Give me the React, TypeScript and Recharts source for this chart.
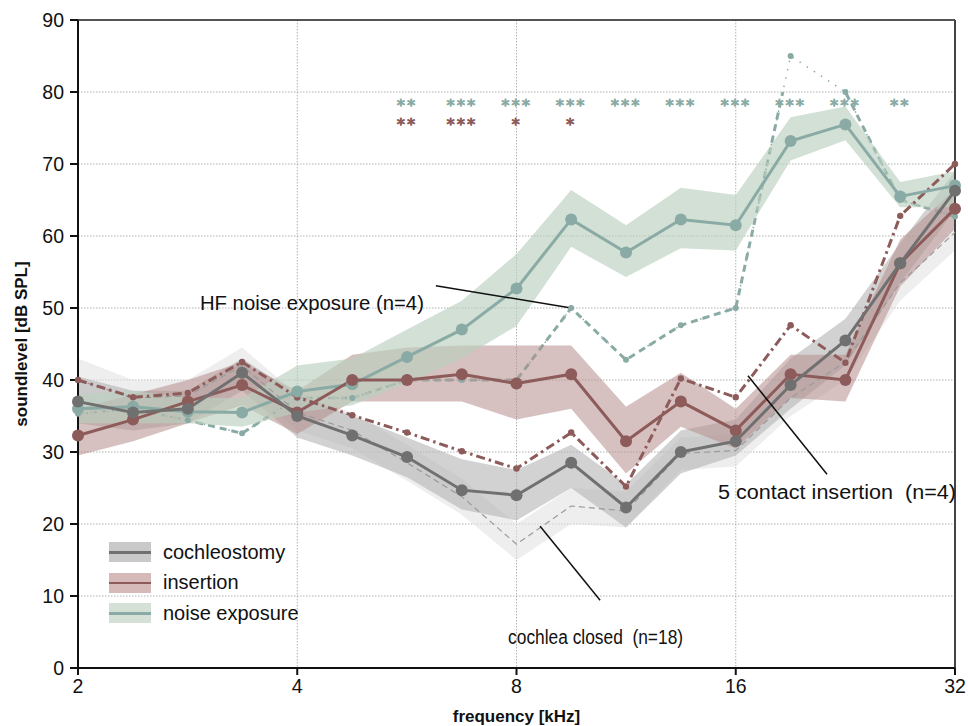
import React from "react";
import {
  ComposedChart,
  Area,
  Line,
  Scatter,
  XAxis,
  YAxis,
  CartesianGrid,
  ReferenceLine,
  ReferenceDot,
  Label,
} from "recharts";

// quarter-octave test frequencies [kHz]
const freqs = [2, 2.38, 2.83, 3.36, 4, 4.76, 5.66, 6.73, 8, 9.51, 11.31, 13.45, 16, 19.03, 22.63, 26.91, 32];
const xTicks = [2, 4, 8, 16, 32];
const yTicks = [0, 10, 20, 30, 40, 50, 60, 70, 80, 90];

// group means with their shaded bands [dB SPL]
const cochleostomy = [37, 35.5, 36, 41, 35, 32.3, 29.3, 24.7, 24, 28.5, 22.3, 30, 31.5, 39.3, 45.5, 56.2, 66.3];
const cochleostomyLo = [34, 33, 34, 38.5, 32, 29.5, 26.5, 22, 20.5, 25, 19.5, 27, 29.5, 36, 42, 53.5, 63.5];
const cochleostomyHi = [40.5, 38.5, 38.5, 43, 38, 35, 32, 29, 27.5, 31, 25.5, 33, 34.5, 43, 48.5, 59, 69];

const insertion = [32.3, 34.5, 37, 39.3, 35.5, 40, 40, 40.8, 39.5, 40.8, 31.5, 37, 33, 40.8, 40, 56.2, 63.8];
const insertionLo = [29.5, 31.5, 34, 36.5, 32.5, 37, 37, 37, 34.5, 36, 27, 33.5, 30.5, 37.5, 37, 53, 61];
const insertionHi = [36, 38, 40, 42.5, 38.5, 43.5, 44.5, 44.8, 44.8, 44.8, 36.3, 41, 36, 43.5, 43.5, 59.5, 66.5];

const noiseExposure = [36, 36.3, 35.6, 35.5, 38.4, 39.4, 43.2, 47, 52.7, 62.3, 57.7, 62.3, 61.5, 73.2, 75.5, 65.5, 67];
const noiseExposureLo = [34, 34, 34, 33.5, 35.5, 36.5, 39.5, 43, 47.5, 58.5, 54.3, 58.3, 58, 70.5, 73.3, 64, 64];
const noiseExposureHi = [38, 38.5, 37.5, 37.5, 42, 43, 47, 51, 57.5, 66.4, 61.5, 66.7, 65.7, 76.5, 78, 67.5, 69];

const cochleaClosed = [40, 37.5, 37.8, 42, 35.5, 33, 28.5, 23.8, 17.2, 22.5, 21.8, 29.8, 30.2, 37.5, 42.5, 53.5, 60.5];
const cochleaClosedLo = [37, 35, 35.5, 39.5, 33, 30.5, 26, 21.3, 15, 20, 19.5, 27.5, 28, 35, 40, 51, 58];
const cochleaClosedHi = [43, 40, 40, 44.5, 38, 35.5, 31, 26.3, 20, 25, 24.5, 32, 32.5, 40, 45, 56, 63];

// single-animal examples (n=4)
const contactInsertion = [40, 37.6, 38.2, 42.5, 37.6, 35.1, 32.7, 30.1, 27.7, 32.7, 25.2, 40.2, 37.6, 47.6, 42.4, 62.8, 70];
const hfNoise = [35.3, 36, 34.4, 32.6, 37.5, 37.5, 40, 40, 40, 50, 42.8, 47.6, 50, 85, 80, 65, 62.7];

// significance markers (noise exposure row on top, insertion row below)
const sigNoise = ["", "", "", "", "", "", "**", "***", "***", "***", "***", "***", "***", "***", "***", "**", ""];
const sigInsertion = ["", "", "", "", "", "", "**", "***", "*", "*", "", "", "", "", "", "", ""];

const legendNames = ["cochleostomy", "insertion", "noise exposure"];

const GRAY = "#707070";
const MAROON = "#8c5b5a";
const TEAL = "#8aaba5";
const FONT = '"Liberation Sans", Arial, sans-serif';

const legendColors = [
  { line: GRAY, band: "#c9c9c9" },
  { line: MAROON, band: "#d6bab9" },
  { line: TEAL, band: "#d5e1d6" },
];

const MARGIN = { top: 20, right: 13, bottom: 0, left: 0 };

function AnnoText({ viewBox, text, anchor, size, len }: any) {
  return (
    <text
      x={viewBox.x}
      y={viewBox.y}
      textAnchor={anchor}
      dominantBaseline="central"
      fontFamily={FONT}
      fontSize={size}
      fill="#111"
      textLength={len}
      lengthAdjust="spacingAndGlyphs"
      style={{ whiteSpace: "pre" }}
    >
      {text}
    </text>
  );
}

function Stars({ cx, cy, payload, color, dy }: any) {
  if (!payload.text) return null;
  return (
    <text
      x={cx}
      y={cy + dy}
      textAnchor="middle"
      fontFamily='"DejaVu Sans", sans-serif'
      fontSize={16.5}
      letterSpacing={2}
      fill={color}
      stroke={color}
      strokeWidth={0.9}
      strokeLinejoin="round"
    >
      {payload.text}
    </text>
  );
}

function LegendBox() {
  return (
    <div style={{ position: "absolute", left: 109, top: 537, fontFamily: FONT, fontSize: 20, color: "#111" }}>
      {legendNames.map((n, i) => (
        <div key={n} style={{ display: "flex", alignItems: "center", height: 30.5 }}>
          <div style={{ position: "relative", width: 42, height: 20, background: legendColors[i].band, marginRight: 12 }}>
            <div style={{ position: "absolute", left: 0, right: 0, top: 9, height: 2.5, background: legendColors[i].line }} />
          </div>
          <span>{n}</span>
        </div>
      ))}
    </div>
  );
}

export default function App() {
  const rows = freqs.map((f, i) => ({
    f,
    coch: cochleostomy[i],
    cochBand: [cochleostomyLo[i], cochleostomyHi[i]],
    ins: insertion[i],
    insBand: [insertionLo[i], insertionHi[i]],
    noise: noiseExposure[i],
    noiseBand: [noiseExposureLo[i], noiseExposureHi[i]],
    closed: cochleaClosed[i],
    closedBand: [cochleaClosedLo[i], cochleaClosedHi[i]],
    contact: contactInsertion[i],
    hf: hfNoise[i],
  }));
  const noiseStars = freqs.map((f, i) => ({ f, y: 78.8, text: sigNoise[i] }));
  const insStars = freqs.map((f, i) => ({ f, y: 76.1, text: sigInsertion[i] }));

  return (
    <div style={{ position: "absolute", left: 0, top: 0, width: 968, height: 726, background: "#fff" }}>
      {/* HF trace, dashed part: its own chart clipped at 80 dB (above that it is drawn dotted) */}
      <div style={{ position: "absolute", left: 0, top: 0 }}>
        <ComposedChart width={968} height={726} data={rows} margin={{ top: 92, right: 13, bottom: 58, left: 78 }}>
          <XAxis dataKey="f" type="number" scale="log" domain={[2, 32]} hide />
          <YAxis type="number" domain={[0, 80]} allowDataOverflow hide />
          <Line dataKey="hf" type="linear" stroke={TEAL} strokeWidth={3} strokeDasharray="7 5" dot={false} isAnimationActive={false} />
        </ComposedChart>
      </div>

      <div style={{ position: "absolute", left: 0, top: 0 }}>
        <ComposedChart width={968} height={726} data={rows} margin={MARGIN}>
          <CartesianGrid stroke="#b0b0b0" strokeDasharray="1.5 1.5" />
          <XAxis
            dataKey="f"
            type="number"
            scale="log"
            domain={[2, 32]}
            ticks={xTicks}
            height={58}
            stroke="#111"
            strokeWidth={2}
            tickSize={7}
            tickMargin={4}
            tick={{ fontFamily: FONT, fontSize: 19.5, fill: "#111" }}
          >
            <Label value="frequency [kHz]" position="insideBottom" offset={4} style={{ fontFamily: FONT, fontSize: 17, fontWeight: "bold", fill: "#111" }} />
          </XAxis>
          <YAxis
            type="number"
            domain={[0, 90]}
            ticks={yTicks}
            width={78}
            stroke="#111"
            strokeWidth={2}
            tickSize={8}
            tickMargin={6}
            tick={{ fontFamily: FONT, fontSize: 19.5, fill: "#111" }}
          >
            <Label
              content={({ viewBox }: any) => {
                const cy = viewBox.y + viewBox.height / 2;
                return (
                  <text x={21} y={cy} transform={`rotate(-90, 21, ${cy})`} textAnchor="middle" dominantBaseline="central" fontFamily={FONT} fontSize={17} fontWeight="bold" fill="#111">
                    soundlevel [dB SPL]
                  </text>
                );
              }}
            />
          </YAxis>

          <ReferenceLine y={90} stroke="#222" strokeWidth={1.5} />
          <ReferenceLine x={32} stroke="#444" strokeWidth={2} />

          <Area dataKey="closedBand" type="linear" stroke="none" fill="#e3e3e3" fillOpacity={0.6} isAnimationActive={false} />
          <Area dataKey="cochBand" type="linear" stroke="none" fill="#b4b4b4" fillOpacity={0.6} isAnimationActive={false} />
          <Area dataKey="insBand" type="linear" stroke="none" fill="#b58e8c" fillOpacity={0.55} isAnimationActive={false} />
          <Area dataKey="noiseBand" type="linear" stroke="none" fill="#bcd0be" fillOpacity={0.65} isAnimationActive={false} />

          <Line dataKey="closed" type="linear" stroke="#9a9a9a" strokeWidth={1.2} strokeDasharray="6 4" dot={false} isAnimationActive={false} />
          <Line dataKey="hf" type="linear" stroke={TEAL} strokeWidth={1.5} strokeDasharray="1.5 7" dot={{ r: 3, fill: TEAL, stroke: "none" }} isAnimationActive={false} />
          <Line dataKey="contact" type="linear" stroke={MAROON} strokeWidth={3} strokeDasharray="9 4 2.5 4" dot={{ r: 3.2, fill: MAROON, stroke: "none" }} isAnimationActive={false} />
          <Line dataKey="noise" type="linear" stroke={TEAL} strokeWidth={3} dot={{ r: 6, fill: TEAL, stroke: "none" }} isAnimationActive={false} />
          <Line dataKey="ins" type="linear" stroke={MAROON} strokeWidth={3} dot={{ r: 6, fill: MAROON, stroke: "none" }} isAnimationActive={false} />
          <Line dataKey="coch" type="linear" stroke={GRAY} strokeWidth={3} dot={{ r: 6, fill: GRAY, stroke: "none" }} isAnimationActive={false} />

          <Scatter data={noiseStars} dataKey="y" shape={(p: any) => <Stars {...p} color={TEAL} dy={10} />} isAnimationActive={false} />
          <Scatter data={insStars} dataKey="y" shape={(p: any) => <Stars {...p} color={MAROON} dy={10} />} isAnimationActive={false} />

          {/* annotations */}
          <ReferenceLine segment={[{ x: 6.2, y: 53.1 }, { x: 9.51, y: 50 }]} stroke="#111" strokeWidth={1.5} />
          <ReferenceDot x={5.97} y={50.7} r={0} stroke="none" label={<AnnoText text="HF noise exposure (n=4)" anchor="end" size={20} len={224} />} />
          <ReferenceLine segment={[{ x: 16.63, y: 40.6 }, { x: 21.35, y: 26.9 }]} stroke="#111" strokeWidth={1.5} />
          <ReferenceDot x={15.13} y={24.4} r={0} stroke="none" label={<AnnoText text="5 contact insertion  (n=4)" anchor="start" size={20} len={238} />} />
          <ReferenceLine segment={[{ x: 8.62, y: 19.7 }, { x: 10.42, y: 9.4 }]} stroke="#111" strokeWidth={1.5} />
          <ReferenceDot x={7.79} y={4.3} r={0} stroke="none" label={<AnnoText text="cochlea closed  (n=18)" anchor="start" size={20} len={175} />} />
        </ComposedChart>
      </div>

      <LegendBox />
    </div>
  );
}
